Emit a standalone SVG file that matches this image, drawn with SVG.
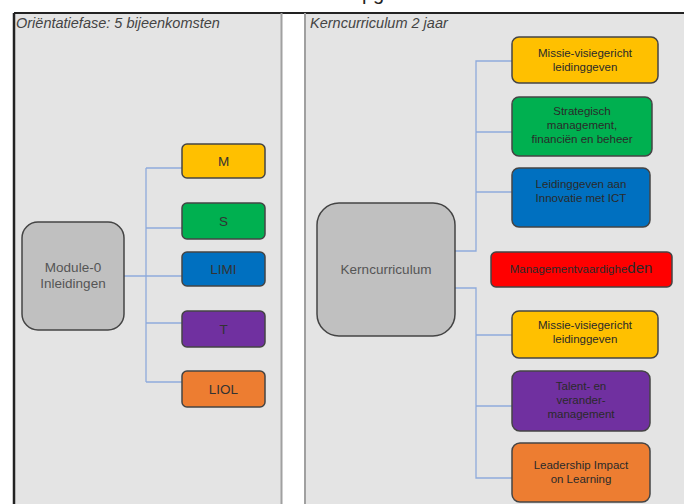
<svg xmlns="http://www.w3.org/2000/svg" width="684" height="504" viewBox="0 0 684 504">
<style>
.panel{fill:#e4e4e4}
.title{font-family:"Liberation Sans",Arial,sans-serif;font-size:14.5px;font-style:italic;fill:#444}
.lbl{font-family:"Liberation Sans",Arial,sans-serif;font-size:11.5px;text-anchor:middle;fill:#2a2a2a}
.big{font-family:"Liberation Sans",Arial,sans-serif;font-size:13.5px;text-anchor:middle;fill:#333}
.box{stroke:#444;stroke-width:1.5}
.conn{fill:none;stroke:#8eaadb;stroke-width:1.3}
</style>
<rect width="684" height="504" fill="#ffffff"/>
<text x="362" y="0" style="font-family:'Liberation Sans',Arial,sans-serif;font-size:20px;fill:#222">pg</text>
<rect class="panel" x="14" y="13" width="268" height="491"/>
<rect class="panel" x="305" y="13" width="379" height="491"/>
<line x1="14" y1="13" x2="684" y2="13" stroke="#222" stroke-width="2"/>
<line x1="14" y1="13" x2="14" y2="504" stroke="#222" stroke-width="2.5"/>
<line x1="281.5" y1="13" x2="281.5" y2="504" stroke="#a0a0a0" stroke-width="2"/>
<line x1="305" y1="13" x2="305" y2="504" stroke="#a0a0a0" stroke-width="2"/>
<text class="title" x="16" y="28">Oriëntatiefase: 5 bijeenkomsten</text>
<text class="title" x="310" y="28">Kerncurriculum 2 jaar</text>

<g id="connectors">
<path class="conn" d="M124,276 H182 M146,168 V382 M146,168 H182 M146,228 H182 M146,323 H182 M146,382 H182"/>
<path class="conn" d="M455,251 H476 V61 H512 M476,132 H512 M476,192 H512"/>
<path class="conn" d="M455,288 H476 V478 H512 M476,335 H512 M476,406 H512"/>
</g>

<g id="module0">
<rect class="box" x="22" y="222" width="102" height="108" rx="16" fill="#c0c0c0" stroke="#555"/>
<text class="big" x="73" y="272" style="fill:#555">Module-0</text>
<text class="big" x="73" y="288" style="fill:#555">Inleidingen</text>
</g>
<g id="m">
<rect class="box" x="182" y="144" width="83" height="34" rx="5" fill="#ffc000"/>
<text class="big" x="223.5" y="166">M</text>
</g>
<g id="s">
<rect class="box" x="182" y="203" width="83" height="36" rx="5" fill="#00b050"/>
<text class="big" x="223.5" y="226">S</text>
</g>
<g id="limi">
<rect class="box" x="182" y="252" width="83" height="34" rx="5" fill="#0070c0" stroke="#3a5a8a"/>
<text class="big" x="223.5" y="274">LIMI</text>
</g>
<g id="t">
<rect class="box" x="182" y="311" width="83" height="36" rx="5" fill="#7030a0"/>
<text class="big" x="223.5" y="334">T</text>
</g>
<g id="liol">
<rect class="box" x="182" y="371" width="83" height="36" rx="5" fill="#ed7d31" stroke="#6a7fa8"/>
<text class="big" x="223.5" y="394">LIOL</text>
</g>

<g id="kerncurriculum">
<rect class="box" x="317" y="203" width="138" height="133" rx="22" fill="#c0c0c0" stroke="#555"/>
<text class="big" x="386" y="274" style="fill:#555">Kerncurriculum</text>
</g>
<g id="missie1">
<rect class="box" x="512" y="37" width="146" height="46" rx="7" fill="#ffc000" stroke="#9673b9"/>
<text class="lbl" x="585" y="57">Missie-visiegericht</text>
<text class="lbl" x="585" y="71">leidinggeven</text>
</g>
<g id="strategisch">
<rect class="box" x="512" y="97" width="140" height="59" rx="7" fill="#00b050"/>
<text class="lbl" x="582" y="115">Strategisch</text>
<text class="lbl" x="582" y="129">management,</text>
<text class="lbl" x="582" y="143">financiën en beheer</text>
</g>
<g id="leidinggeven">
<rect class="box" x="512" y="168" width="138" height="59" rx="7" fill="#0070c0" stroke="#3a6fb0"/>
<text class="lbl" x="581" y="188">Leidinggeven aan</text>
<text class="lbl" x="581" y="202">Innovatie met ICT</text>
</g>
<g id="management">
<rect class="box" x="491" y="252" width="181" height="35" rx="5" fill="#ff0000"/>
<text class="lbl" x="581" y="273">Managementvaardighe<tspan font-size="15">den</tspan></text>
</g>
<g id="missie2">
<rect class="box" x="512" y="311" width="146" height="47" rx="7" fill="#ffc000"/>
<text class="lbl" x="585" y="329">Missie-visiegericht</text>
<text class="lbl" x="585" y="343">leidinggeven</text>
</g>
<g id="talent">
<rect class="box" x="512" y="371" width="138" height="60" rx="8" fill="#7030a0" stroke="#6a7fb8"/>
<text class="lbl" x="581" y="390">Talent- en</text>
<text class="lbl" x="581" y="404">verander-</text>
<text class="lbl" x="581" y="418">management</text>
</g>
<g id="leadership">
<rect class="box" x="512" y="443" width="138" height="59" rx="8" fill="#ed7d31" stroke="#6a7fb8"/>
<text class="lbl" x="581" y="469">Leadership Impact</text>
<text class="lbl" x="581" y="483">on Learning</text>
</g>
</svg>
